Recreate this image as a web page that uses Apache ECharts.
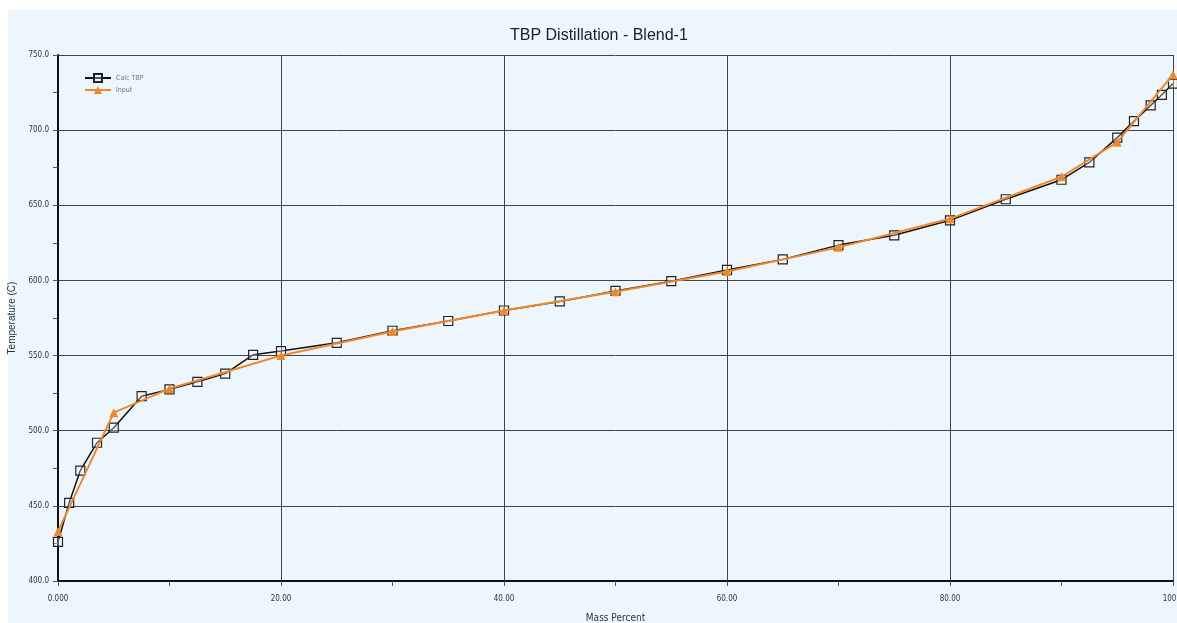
<!DOCTYPE html>
<html>
<head>
<meta charset="utf-8">
<script src="https://cdn.jsdelivr.net/npm/echarts@6/dist/echarts.min.js"></script>
<style>
html,body{margin:0;padding:0;background:#ffffff;overflow:hidden;}
#chart{width:1177px;height:623px;}
</style>
</head>
<body>
<div id="chart"></div>
<script>
// Calc TBP (black hollow squares)
var calcX = [0, 1, 2, 3.5, 5, 7.5, 10, 12.5, 15, 17.5, 20, 25, 30, 35, 40, 45, 50, 55, 60, 65, 70, 75, 80, 85, 90, 92.5, 95, 96.5, 98, 99, 100];
var calcY = [426, 452, 473.5, 492, 502, 523, 527.5, 532.5, 538, 550.5, 553, 558.5, 566.5, 573, 580, 586, 593, 599.5, 607, 614, 623.5, 630, 640, 654, 667, 678.5, 695, 706, 716.5, 723.5, 731];
// Input (orange triangles)
var inputX = [0, 5, 10, 20, 30, 40, 50, 60, 70, 80, 90, 95, 100];
var inputY = [433, 512, 528, 550, 566, 580, 592.5, 606, 622, 641, 669, 692, 737];
var xTicks = {0: '0.000', 20: '20.00', 40: '40.00', 60: '60.00', 80: '80.00', 100: '100.0'};

function pairs(xs, ys) { return xs.map(function (x, i) { return [x, ys[i]]; }); }

var narrow = '"DejaVu Sans Condensed", "Liberation Sans Narrow", "Liberation Sans", sans-serif';
var chart = echarts.init(document.getElementById('chart'));
chart.setOption({
  backgroundColor: '#ffffff',
  animation: false,
  graphic: [{
    type: 'rect', z: -10, silent: true,
    shape: {x: 8, y: 10, width: 1169, height: 613},
    style: {fill: '#eef6fd'}
  }],
  title: {
    text: 'TBP Distillation - Blend-1',
    left: 505, top: 23,
    textStyle: {fontFamily: '"Liberation Sans", Arial, sans-serif', fontSize: 16, fontWeight: 'normal', color: '#222'}
  },
  legend: {
    orient: 'vertical', left: 79, top: 68, itemGap: 3,
    itemWidth: 26, itemHeight: 10,
    textStyle: {fontFamily: narrow, fontSize: 7, color: '#777'},
    data: ['Calc TBP', 'Input']
  },
  grid: {left: 58, right: 4, top: 55, bottom: 42, containLabel: false, outerBoundsMode: 'none'},
  xAxis: {
    type: 'value', min: 0, max: 100, interval: 20,
    name: 'Mass Percent', nameLocation: 'middle', nameGap: 32,
    nameTextStyle: {fontFamily: narrow, fontSize: 10, color: '#333'},
    axisLine: {show: true, onZero: false, lineStyle: {color: '#111', width: 2}},
    axisTick: {show: true, length: 5, lineStyle: {color: '#555'}},
    minorTick: {show: true, splitNumber: 2, length: 5, lineStyle: {color: '#555'}},
    axisLabel: {
      margin: 14, fontFamily: narrow, fontSize: 8, color: '#333',
      formatter: function (v) { return xTicks[v] !== undefined ? xTicks[v] : ''; }
    },
    splitLine: {show: true, lineStyle: {color: '#444', width: 1}}
  },
  yAxis: {
    type: 'value', min: 400, max: 750, interval: 50,
    name: 'Temperature (C)', nameLocation: 'middle', nameGap: 33, nameRotate: 90,
    nameTextStyle: {fontFamily: '"Liberation Sans", Arial, sans-serif', fontSize: 10, color: '#333'},
    axisLine: {show: true, lineStyle: {color: '#111', width: 2}},
    axisTick: {show: true, length: 5, lineStyle: {color: '#555'}},
    minorTick: {show: true, splitNumber: 2, length: 5, lineStyle: {color: '#555'}},
    axisLabel: {
      margin: 9, fontFamily: narrow, fontSize: 8, color: '#333',
      formatter: function (v) { return v.toFixed(1); }
    },
    splitLine: {show: true, lineStyle: {color: '#444', width: 1}}
  },
  series: [
    {
      name: 'Input', type: 'line', data: pairs(inputX, inputY),
      smooth: false, symbol: 'triangle', symbolSize: 9,
      itemStyle: {color: '#f0882a'},
      lineStyle: {color: '#f0882a', width: 2}, z: 3
    },
    {
      name: 'Calc TBP', type: 'line', data: pairs(calcX, calcY),
      symbol: 'rect', symbolSize: 9,
      itemStyle: {color: 'rgba(255,255,255,0.3)', borderColor: '#222', borderWidth: 1.2},
      lineStyle: {color: '#111', width: 1.5}, z: 2
    }
  ]
});
</script>
</body>
</html>
